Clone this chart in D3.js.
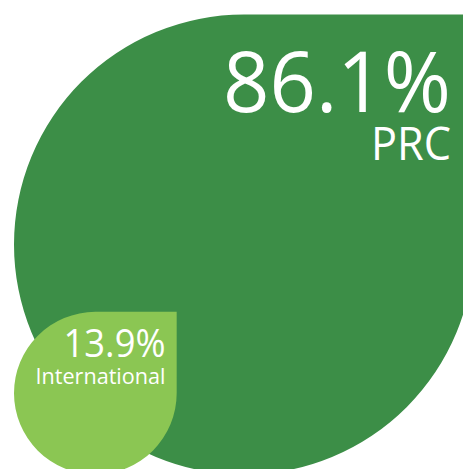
<!DOCTYPE html>
<html>
<head>
<meta charset="utf-8">
<script src="https://cdn.jsdelivr.net/npm/d3@7"></script>
<style>
  html, body { margin: 0; padding: 0; background: #fff; }
  svg { display: block; }
</style>
</head>
<body>
<svg id="chart"></svg>
<script>
// data
const categories = ["PRC", "International"];
const shares = [86.1, 13.9];
const valueLabels = ["86.1%", "13.9%"];
const colors = ["#3c8e47", "#8bc653"];

const width = 463, height = 469;

const svg = d3.select("#chart")
  .attr("width", width)
  .attr("height", height);

// size of each drop (radius) from its share
const r = d3.scalePow()
  .exponent(0.57)
  .domain([0, d3.max(shares)])
  .range([0, 230]);

// both drops sit on the same bottom-left corner
const baseX = 14, baseY = 474.5;

function dropPath(rad) {
  const cx = baseX + rad, cy = baseY - rad;
  const p = d3.path();
  p.moveTo(cx, cy - rad);
  p.lineTo(cx + rad, cy - rad);          // square top-right corner
  p.lineTo(cx + rad, cy);
  p.arc(cx, cy, rad, 0, Math.PI / 2);
  p.arc(cx, cy, rad, Math.PI / 2, Math.PI);
  p.arc(cx, cy, rad, Math.PI, Math.PI * 1.5);
  p.closePath();
  return p.toString();
}

const data = categories.map(function(c, i) {
  return { key: c, value: shares[i], label: valueLabels[i], color: colors[i] };
});

svg.selectAll("path.drop")
  .data(data)
  .enter()
  .append("path")
  .attr("class", "drop")
  .attr("d", function(d) { return dropPath(r(d.value)); })
  .attr("fill", function(d) { return d.color; });

// label layout: right edge, baselines, font sizes, widths
const labelLayout = [
  { right: 451, valueY: 111.5, valueSize: 85, valueW: 228, nameY: 160, nameSize: 46, nameW: 80 },
  { right: 165.5, valueY: 357, valueSize: 38, valueW: 102, nameY: 384, nameSize: 22.5, nameW: 130 }
];

const labels = svg.selectAll("g.label")
  .data(data)
  .enter()
  .append("g")
  .attr("class", "label")
  .style("font-family", "'Open Sans', sans-serif")
  .attr("fill", "#fff");

labels.append("text")
  .attr("x", function(d, i) { return labelLayout[i].right - labelLayout[i].valueW; })
  .attr("y", function(d, i) { return labelLayout[i].valueY; })
  .attr("font-size", function(d, i) { return labelLayout[i].valueSize; })
  .attr("textLength", function(d, i) { return labelLayout[i].valueW; })
  .attr("lengthAdjust", "spacingAndGlyphs")
  .text(function(d) { return d.label; });

labels.append("text")
  .attr("x", function(d, i) { return labelLayout[i].right - labelLayout[i].nameW; })
  .attr("y", function(d, i) { return labelLayout[i].nameY; })
  .attr("font-size", function(d, i) { return labelLayout[i].nameSize; })
  .attr("textLength", function(d, i) { return labelLayout[i].nameW; })
  .attr("lengthAdjust", "spacingAndGlyphs")
  .text(function(d) { return d.key; });
</script>
</body>
</html>
